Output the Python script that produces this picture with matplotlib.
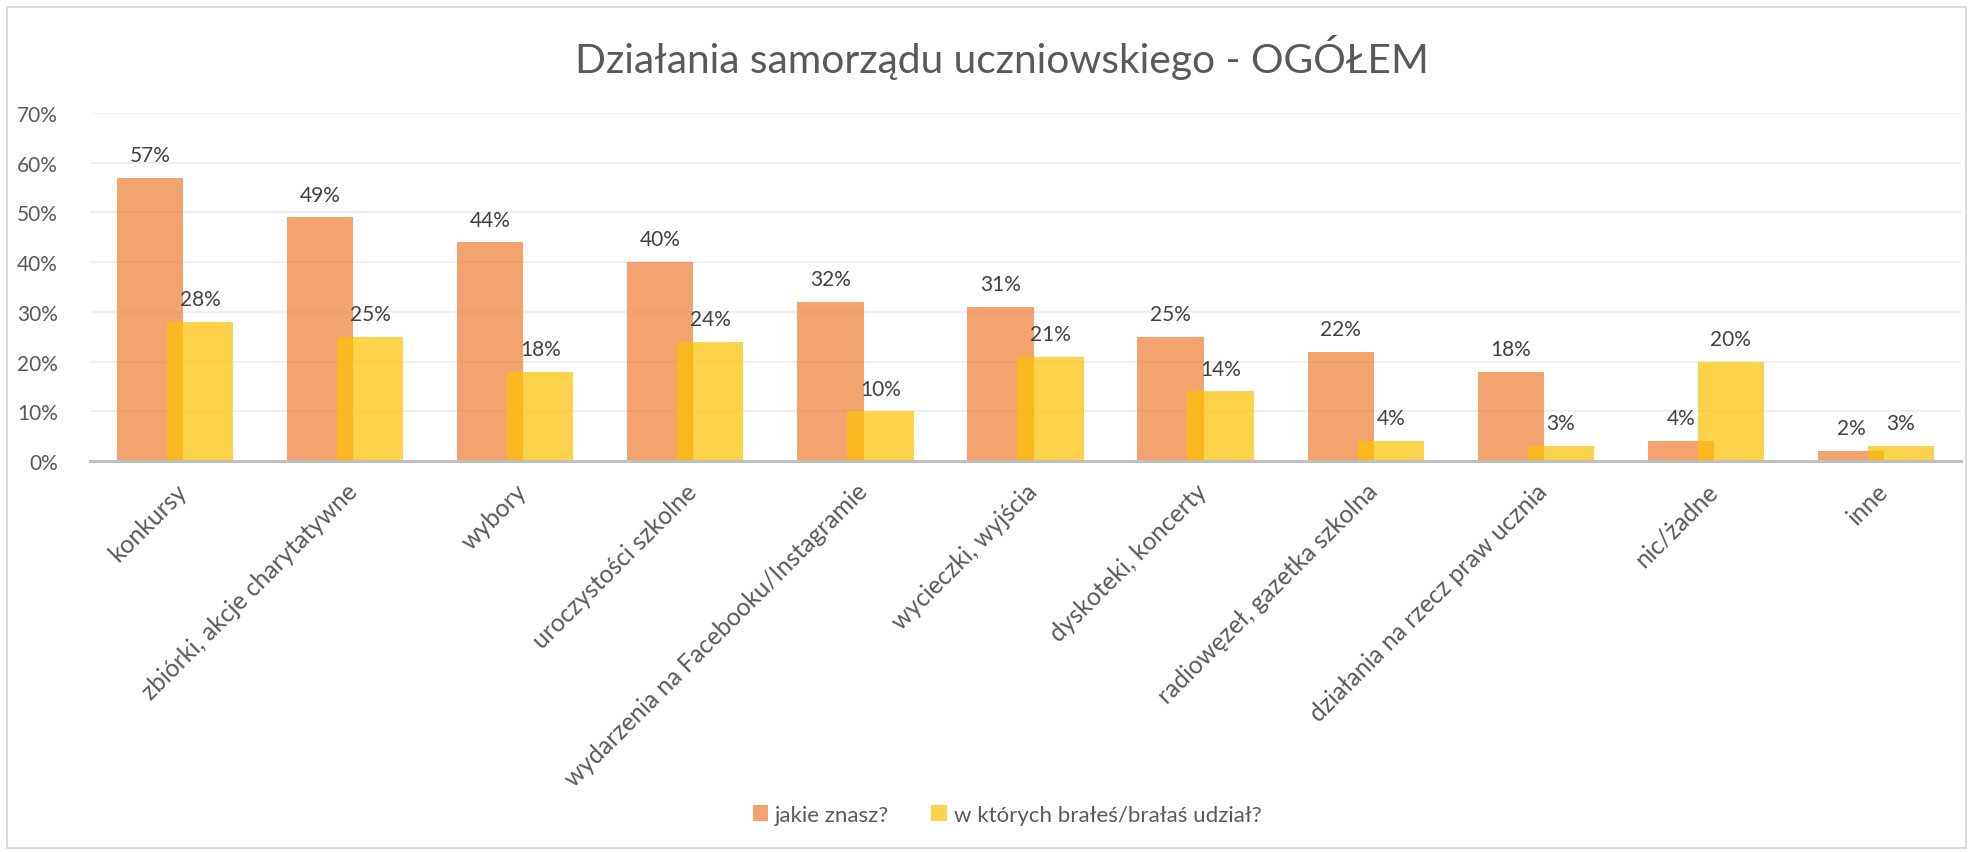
import matplotlib
matplotlib.use("Agg")
import matplotlib.pyplot as plt
import numpy as np
from matplotlib.patches import Rectangle, Patch

plt.rcParams['font.family'] = ['Lato', 'DejaVu Sans']

categories = ["konkursy", "zbiórki, akcje charytatywne", "wybory", "uroczystości szkolne",
              "wydarzenia na Facebooku/Instagramie", "wycieczki, wyjścia", "dyskoteki, koncerty",
              "radiowęzeł, gazetka szkolna", "działania na rzecz praw ucznia", "nic/żadne", "inne"]
jakie_znasz = [57, 49, 44, 40, 32, 31, 25, 22, 18, 4, 2]
brales_udzial = [28, 25, 18, 24, 10, 21, 14, 4, 3, 20, 3]
series_names = ["jakie znasz?", "w których brałeś/brałaś udział?"]
title = "Działania samorządu uczniowskiego - OGÓŁEM"
yticks = [0, 10, 20, 30, 40, 50, 60, 70]

W, H = 1972, 853
fig = plt.figure(figsize=(W / 100, H / 100), dpi=100)

# outer chart border
fig.add_artist(Rectangle((7 / W, 1 - 849 / H), (1966 - 7) / W, (849 - 8) / H,
                         transform=fig.transFigure, fill=False, edgecolor='#D9D9D9', lw=1.3))

ax = fig.add_axes([90 / W, 1 - 462 / H, (1961 - 90) / W, (462 - 114) / H])

orange = (237 / 255, 125 / 255, 49 / 255, 0.7)
yellow = (1.0, 192 / 255, 0.0, 0.7)

x = np.arange(len(categories))
bw = 0.39
off = 0.147
b1 = ax.bar(x - off, jakie_znasz, bw, color=orange, zorder=2, linewidth=0)
b2 = ax.bar(x + off, brales_udzial, bw, color=yellow, zorder=3, linewidth=0)

for bars, vals in ((b1, jakie_znasz), (b2, brales_udzial)):
    for r, v in zip(bars, vals):
        ax.annotate(f"{v}%", (r.get_x() + r.get_width() / 2, r.get_height()),
                    xytext=(0, 12), textcoords='offset points', ha='center', va='baseline',
                    fontsize=15, color='#404040', zorder=5)

ax.set_xlim(-0.5, len(categories) - 0.5)
ax.set_ylim(0, 70)
ax.set_yticks(yticks)
ax.set_yticklabels([f"{t}%" for t in yticks], fontsize=15, color='#595959')
ax.yaxis.grid(True, color='#EFEFEF', lw=1.5, zorder=0)
ax.set_axisbelow(True)
ax.tick_params(axis='y', length=0, pad=23)
ax.tick_params(axis='x', length=0, pad=13)
for s in ['top', 'right', 'left']:
    ax.spines[s].set_visible(False)
ax.spines['bottom'].set_color('#BFBFBF')
ax.spines['bottom'].set_linewidth(2.2)
ax.spines['bottom'].set_zorder(4)

ax.set_xticks(x)
ax.set_xticklabels(categories, rotation=45, ha='right', rotation_mode='anchor',
                   fontsize=17.7, color='#595959')

fig.text(1002 / W, 1 - 57 / H, title, ha='center', va='center', fontsize=29.3,
         color='#595959', fontweight='normal')

handles = [Patch(facecolor=orange, edgecolor='none'), Patch(facecolor=yellow, edgecolor='none')]
fig.legend(handles, series_names, loc='center', bbox_to_anchor=(1007 / W, 1 - 816 / H),
           ncol=2, frameon=False, fontsize=16, labelcolor='#595959',
           handlelength=0.7, handleheight=0.7, handletextpad=0.3, columnspacing=1.9)

fig.savefig("out.png", dpi=100, facecolor='white')
